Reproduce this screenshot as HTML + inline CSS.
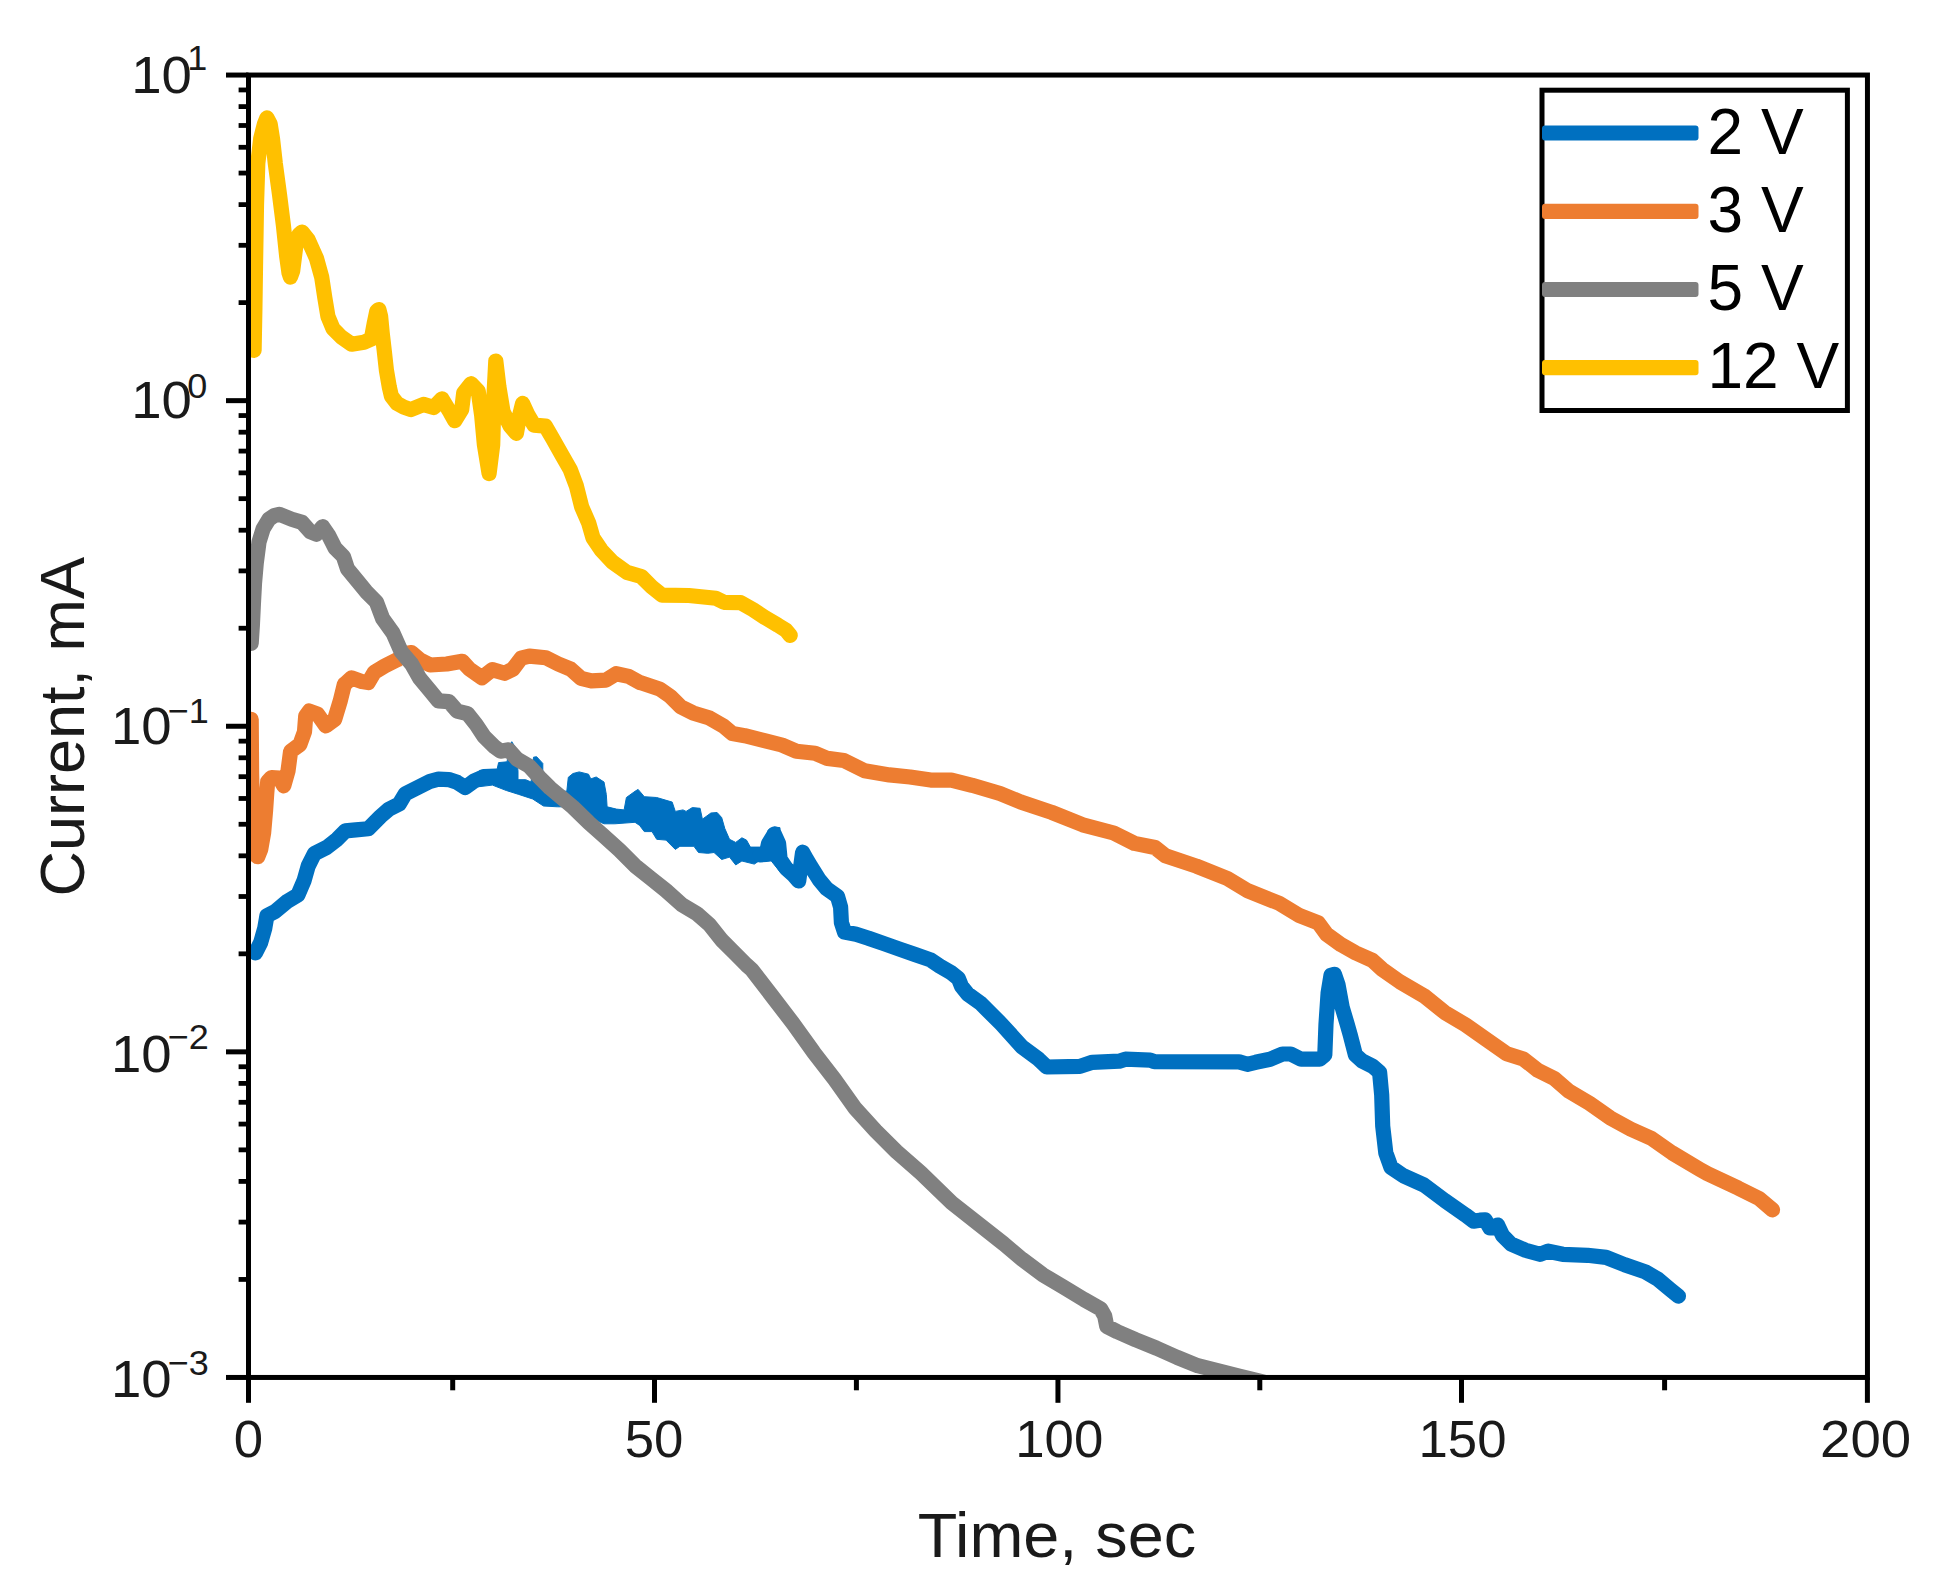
<!DOCTYPE html>
<html lang="en"><head><meta charset="utf-8"><title>Current vs Time</title>
<style>html,body{margin:0;padding:0;background:#fff}svg{display:block}</style>
</head><body>
<svg width="1936" height="1582" viewBox="0 0 1936 1582">
<rect x="0" y="0" width="1936" height="1582" fill="#ffffff"/>
<defs><clipPath id="pc"><rect x="248.50" y="75.05" width="1618.95" height="1302.40"/></clipPath></defs>
<g clip-path="url(#pc)" fill="none" stroke-width="15.2" stroke-linejoin="round" stroke-linecap="round">
<polyline stroke="#0070C0" points="255.5,952.9 260.7,942.5 264.8,928.1 266.9,915.7 275.1,911.5 287.5,901.2 297.9,895.0 304.1,880.5 308.2,866.0 314.4,853.6 326.8,847.4 337.2,839.2 345.4,830.9 355.8,829.9 368.2,828.8 380.6,816.4 388.8,809.2 399.2,804.0 405.4,793.7 417.8,787.5 430.2,781.3 438.4,779.2 448.8,779.6 457.1,782.3 465.3,787.5 473.6,781.3 483.9,776.7 496.3,776.1 497.0,777.6"/>
<polygon fill="#0070C0" stroke="#0070C0" stroke-width="1" points="480.0,770.4 497.0,769.6 498.6,762.6 507.1,761.8 508.7,747.9 511.8,741.7 515.6,747.9 518.0,771.1 518.0,779.7 525.7,779.7 531.1,782.0 533.5,757.2 536.6,756.7 542.8,763.4 542.8,771.1 546.6,789.7 566.8,791.3 568.3,777.3 573.0,773.5 579.2,771.9 588.5,774.2 590.8,778.9 596.2,777.0 604.0,782.0 606.3,794.4 607.1,806.8 616.4,809.1 624.1,809.9 626.4,797.5 635.0,791.3 638.1,789.4 644.3,796.7 656.7,797.5 672.2,802.1 675.3,811.4 683.0,809.9 686.1,811.4 692.3,807.6 700.1,808.3 702.4,819.2 710.9,813.0 717.1,812.5 721.7,817.6 724.8,828.5 729.5,839.3 735.7,842.4 741.9,837.8 746.5,840.1 750.4,847.1 765.1,847.1 768.2,830.0 774.4,826.9 780.0,827.7 780.0,871.9 771.3,861.0 758.9,861.0 754.3,864.1 741.9,861.0 735.7,864.9 729.5,857.1 721.7,859.5 714.0,852.5 707.8,853.3 698.5,852.5 693.9,846.3 679.9,846.3 675.3,849.4 666.0,840.1 656.7,839.3 652.0,831.6 644.3,831.6 639.6,825.4 635.0,822.3 614.8,823.8 604.0,823.8 588.5,816.9 566.8,806.8 557.5,806.8 543.5,806.0 532.7,799.0 518.7,794.4 506.3,790.5 492.4,785.1 480.0,786.6"/>
<polyline stroke="#0070C0" points="760.0,854.8 766.2,854.5 768.5,843.7 774.3,834.1 778.6,843.7 780.1,859.2 786.3,868.5 793.3,874.7 798.7,880.9 800.6,866.9 802.6,852.2 806.5,859.2 811.1,866.9 818.9,879.3 826.6,888.6 837.5,896.4 840.6,907.2 841.4,922.7 844.5,932.0 856.1,934.3 868.5,938.2 884.0,943.6 899.5,949.1 915.0,954.5 930.5,959.9 939.8,966.1 950.6,972.3 958.4,978.5 961.5,986.3 967.7,994.0 980.7,1003.4 1001.3,1024.0 1022.0,1046.8 1038.6,1059.2 1046.8,1067.0 1079.9,1066.4 1092.3,1062.3 1119.2,1061.2 1125.4,1059.2 1150.2,1060.2 1154.3,1061.7 1239.1,1061.9 1247.3,1064.3 1255.6,1062.3 1270.1,1059.2 1282.5,1054.0 1290.7,1054.0 1301.1,1059.2 1319.7,1059.2 1324.8,1054.9 1326.0,1023.9 1328.1,992.9 1331.0,975.3 1334.5,974.3 1338.0,984.7 1342.2,1007.4 1347.1,1023.9 1350.6,1036.3 1355.4,1054.9 1362.0,1060.9 1372.4,1066.1 1379.6,1072.3 1381.7,1095.0 1382.7,1126.0 1385.8,1152.9 1391.0,1167.4 1403.4,1175.7 1424.0,1185.0 1444.7,1200.5 1465.4,1214.9 1473.6,1221.1 1480.0,1220.2 1485.2,1219.8 1489.9,1227.9 1492.8,1227.9 1497.6,1225.0 1502.7,1235.7 1511.0,1244.0 1525.5,1250.2 1539.9,1254.3 1548.2,1251.2 1562.7,1254.3 1587.5,1255.3 1606.1,1257.4 1624.7,1264.7 1645.4,1271.9 1657.8,1279.1 1670.2,1289.5 1678.4,1296.1"/>
<polyline stroke="#ED7D31" points="251.2,719.3 251.6,773.0 252.8,824.7 255.3,854.7 257.8,856.7 260.7,849.5 263.6,833.0 265.6,810.2 266.7,793.7 267.7,781.7 271.4,777.6 279.3,778.2 283.8,785.8 288.0,771.0 290.6,751.3 299.9,744.5 304.5,731.7 305.7,716.2 309.3,711.0 317.5,714.1 325.8,725.9 334.7,719.3 340.3,700.7 344.4,684.1 345.4,683.6 351.6,677.8 362.0,681.6 368.2,682.6 374.4,672.2 384.7,666.0 397.1,659.8 405.4,653.6 411.6,652.6 419.8,659.8 430.2,665.0 446.7,664.0 462.2,661.3 469.5,669.1 481.9,677.8 492.2,669.6 504.6,673.3 512.9,669.1 521.1,658.2 529.4,656.1 545.9,657.8 558.3,664.0 570.7,669.1 581.1,678.4 591.4,680.9 605.9,680.1 616.2,673.7 628.6,676.4 640.0,682.6 641.3,682.9 659.9,689.1 670.3,696.4 680.6,706.7 693.0,712.9 709.6,718.1 724.0,726.4 732.3,733.6 744.7,735.7 765.4,740.8 781.9,745.0 796.4,751.2 815.0,753.2 827.4,758.4 843.9,760.5 864.6,770.8 889.4,774.9 910.1,777.0 930.7,780.1 951.4,780.1 972.1,785.3 1000.0,793.5 1020.7,802.0 1051.7,812.4 1082.7,824.8 1113.7,833.0 1134.4,843.4 1155.0,847.5 1165.4,855.8 1196.4,866.1 1227.4,878.5 1248.1,890.9 1279.1,903.3 1299.7,915.7 1318.3,922.9 1326.6,934.3 1341.1,944.7 1355.6,952.9 1372.1,960.2 1382.4,969.5 1400.0,981.9 1424.0,995.8 1444.7,1012.4 1465.4,1024.8 1486.0,1039.2 1506.7,1053.7 1523.3,1058.9 1537.7,1070.2 1554.3,1078.5 1568.7,1090.9 1589.4,1103.3 1610.1,1117.8 1630.7,1129.1 1651.4,1138.4 1672.1,1152.9 1700.0,1169.5 1707.4,1173.7 1738.4,1188.2 1759.1,1198.5 1772.5,1209.9"/>
<polyline stroke="#808080" points="251.2,643.3 252.4,624.7 253.4,604.0 254.5,583.4 256.3,562.7 259.0,542.0 263.2,528.6 268.9,519.3 274.1,515.6 279.3,514.3 291.7,519.3 302.0,522.4 310.3,531.7 316.5,534.2 322.7,526.7 328.9,535.8 335.1,548.2 343.4,556.5 347.5,568.9 357.8,581.3 366.1,591.6 376.4,602.0 382.6,618.5 393.0,633.0 401.2,651.6 411.6,664.0 419.8,678.4 430.2,690.9 438.4,700.8 448.8,701.6 457.1,711.1 467.4,713.6 475.7,723.9 483.9,736.3 494.3,746.7 500.5,751.2 508.7,749.8 517.0,759.1 529.4,766.3 539.7,777.7 550.1,788.0 562.5,798.3 572.8,807.0 588.5,822.3 604.0,836.2 619.5,850.2 635.0,865.7 650.5,878.1 666.0,890.5 681.5,904.4 697.0,913.7 709.4,924.6 721.7,940.1 734.1,952.5 746.5,965.0 751.7,969.6 772.4,996.5 793.0,1023.4 813.7,1052.3 834.4,1079.2 855.0,1108.1 875.7,1130.9 896.4,1151.5 920.7,1172.8 951.8,1202.9 1003.7,1243.8 1022.0,1259.2 1042.7,1274.7 1063.4,1287.1 1084.0,1299.5 1100.6,1308.8 1104.7,1316.0 1106.8,1326.4 1117.1,1331.6 1135.7,1339.8 1156.4,1348.1 1177.1,1357.4 1197.7,1365.7 1218.4,1370.8 1239.1,1376.0 1259.7,1381.2 1280.4,1386.3"/>
<polyline stroke="#FFC000" points="254.1,350.4 254.9,308.1 255.5,266.7 256.5,204.7 257.8,163.4 260.7,138.6 264.4,124.1 266.9,117.9 270.2,124.1 272.5,138.6 275.3,163.4 279.5,194.4 283.4,225.4 286.7,256.4 289.0,272.9 290.4,277.1 292.7,270.9 295.8,246.0 298.9,234.7 302.0,232.0 308.2,239.8 316.5,258.4 321.7,277.1 324.8,297.7 327.9,316.3 333.0,328.7 341.3,337.0 351.6,344.2 364.0,342.2 371.3,339.1 374.4,322.5 376.8,311.2 378.9,309.5 380.6,316.3 382.2,332.9 384.1,349.4 386.4,370.1 389.3,387.0 391.4,396.1 397.0,403.4 403.8,407.1 411.0,409.6 423.4,404.4 433.7,407.5 442.0,398.8 450.3,412.7 454.8,420.7 461.7,409.6 463.7,393.0 471.0,383.7 478.2,391.0 481.7,415.8 484.4,444.7 489.1,473.6 492.7,444.7 494.1,393.0 495.8,361.0 498.9,386.8 503.0,411.6 510.2,426.1 516.4,433.3 519.5,415.8 522.6,403.4 527.8,414.7 534.0,425.1 545.4,426.1 552.6,438.5 561.9,455.0 570.2,469.5 576.4,486.0 581.6,506.7 588.8,523.3 592.9,537.7 601.2,550.1 612.4,562.0 626.9,572.4 641.3,576.5 651.7,586.8 662.0,595.1 688.9,595.5 715.8,598.2 724.0,602.3 740.6,602.7 753.0,609.6 765.4,617.8 777.8,625.1 786.0,630.2 790.2,635.4"/>
</g>
<g stroke="#000" fill="none">
<rect x="248.50" y="75.05" width="1618.95" height="1302.40" stroke-width="5.00"/>
<line x1="226.00" y1="75.05" x2="248.50" y2="75.05" stroke-width="5"/>
<line x1="238.60" y1="302.63" x2="248.50" y2="302.63" stroke-width="4.8"/>
<line x1="238.60" y1="245.30" x2="248.50" y2="245.30" stroke-width="4.8"/>
<line x1="238.60" y1="204.62" x2="248.50" y2="204.62" stroke-width="4.8"/>
<line x1="238.60" y1="173.07" x2="248.50" y2="173.07" stroke-width="4.8"/>
<line x1="238.60" y1="147.28" x2="248.50" y2="147.28" stroke-width="4.8"/>
<line x1="238.60" y1="125.49" x2="248.50" y2="125.49" stroke-width="4.8"/>
<line x1="238.60" y1="106.60" x2="248.50" y2="106.60" stroke-width="4.8"/>
<line x1="238.60" y1="89.95" x2="248.50" y2="89.95" stroke-width="4.8"/>
<line x1="226.00" y1="400.65" x2="248.50" y2="400.65" stroke-width="5"/>
<line x1="238.60" y1="628.23" x2="248.50" y2="628.23" stroke-width="4.8"/>
<line x1="238.60" y1="570.90" x2="248.50" y2="570.90" stroke-width="4.8"/>
<line x1="238.60" y1="530.22" x2="248.50" y2="530.22" stroke-width="4.8"/>
<line x1="238.60" y1="498.67" x2="248.50" y2="498.67" stroke-width="4.8"/>
<line x1="238.60" y1="472.88" x2="248.50" y2="472.88" stroke-width="4.8"/>
<line x1="238.60" y1="451.09" x2="248.50" y2="451.09" stroke-width="4.8"/>
<line x1="238.60" y1="432.20" x2="248.50" y2="432.20" stroke-width="4.8"/>
<line x1="238.60" y1="415.55" x2="248.50" y2="415.55" stroke-width="4.8"/>
<line x1="226.00" y1="726.25" x2="248.50" y2="726.25" stroke-width="5"/>
<line x1="238.60" y1="953.83" x2="248.50" y2="953.83" stroke-width="4.8"/>
<line x1="238.60" y1="896.50" x2="248.50" y2="896.50" stroke-width="4.8"/>
<line x1="238.60" y1="855.82" x2="248.50" y2="855.82" stroke-width="4.8"/>
<line x1="238.60" y1="824.27" x2="248.50" y2="824.27" stroke-width="4.8"/>
<line x1="238.60" y1="798.48" x2="248.50" y2="798.48" stroke-width="4.8"/>
<line x1="238.60" y1="776.69" x2="248.50" y2="776.69" stroke-width="4.8"/>
<line x1="238.60" y1="757.80" x2="248.50" y2="757.80" stroke-width="4.8"/>
<line x1="238.60" y1="741.15" x2="248.50" y2="741.15" stroke-width="4.8"/>
<line x1="226.00" y1="1051.85" x2="248.50" y2="1051.85" stroke-width="5"/>
<line x1="238.60" y1="1279.43" x2="248.50" y2="1279.43" stroke-width="4.8"/>
<line x1="238.60" y1="1222.10" x2="248.50" y2="1222.10" stroke-width="4.8"/>
<line x1="238.60" y1="1181.42" x2="248.50" y2="1181.42" stroke-width="4.8"/>
<line x1="238.60" y1="1149.87" x2="248.50" y2="1149.87" stroke-width="4.8"/>
<line x1="238.60" y1="1124.08" x2="248.50" y2="1124.08" stroke-width="4.8"/>
<line x1="238.60" y1="1102.29" x2="248.50" y2="1102.29" stroke-width="4.8"/>
<line x1="238.60" y1="1083.40" x2="248.50" y2="1083.40" stroke-width="4.8"/>
<line x1="238.60" y1="1066.75" x2="248.50" y2="1066.75" stroke-width="4.8"/>
<line x1="226.00" y1="1377.45" x2="248.50" y2="1377.45" stroke-width="5"/>
<line x1="248.50" y1="1377.45" x2="248.50" y2="1402.80" stroke-width="5"/>
<line x1="654.50" y1="1377.45" x2="654.50" y2="1402.80" stroke-width="5"/>
<line x1="1057.95" y1="1377.45" x2="1057.95" y2="1402.80" stroke-width="5"/>
<line x1="1461.50" y1="1377.45" x2="1461.50" y2="1402.80" stroke-width="5"/>
<line x1="1867.40" y1="1377.45" x2="1867.40" y2="1402.80" stroke-width="5"/>
<line x1="452.70" y1="1377.45" x2="452.70" y2="1390.30" stroke-width="5"/>
<line x1="856.40" y1="1377.45" x2="856.40" y2="1390.30" stroke-width="5"/>
<line x1="1259.80" y1="1377.45" x2="1259.80" y2="1390.30" stroke-width="5"/>
<line x1="1664.60" y1="1377.45" x2="1664.60" y2="1390.30" stroke-width="5"/>
</g>
<g font-family="'Liberation Sans', Arial, sans-serif" fill="#1a1a1a">
<text transform="translate(248.50,1456.90) scale(1.035,1)" font-size="51" text-anchor="middle">0</text>
<text transform="translate(654.00,1456.90) scale(1.035,1)" font-size="51" text-anchor="middle">50</text>
<text transform="translate(1059.20,1456.90) scale(1.035,1)" font-size="51" text-anchor="middle">100</text>
<text transform="translate(1462.50,1456.90) scale(1.035,1)" font-size="51" text-anchor="middle">150</text>
<text transform="translate(1865.60,1456.90) scale(1.070,1)" font-size="51" text-anchor="middle">200</text>
<text transform="translate(131.20,92.55) scale(1.070,1)" font-size="51">10</text>
<text transform="translate(187.30,69.65) scale(1.030,1)" font-size="35">1</text>
<text transform="translate(131.20,417.75) scale(1.070,1)" font-size="51">10</text>
<text transform="translate(187.30,398.15) scale(1.030,1)" font-size="35">0</text>
<text transform="translate(111.00,743.55) scale(1.070,1)" font-size="51">10</text>
<text transform="translate(167.60,723.35) scale(1.030,1)" font-size="35">−1</text>
<text transform="translate(111.00,1071.75) scale(1.070,1)" font-size="51">10</text>
<text transform="translate(167.60,1049.25) scale(1.030,1)" font-size="35">−2</text>
<text transform="translate(111.00,1397.35) scale(1.070,1)" font-size="51">10</text>
<text transform="translate(167.60,1374.65) scale(1.030,1)" font-size="35">−3</text>
<text transform="translate(1056.97,1556.70) scale(1.02,1)" font-size="63.5" text-anchor="middle">Time, sec</text>
<text transform="translate(84.4,896.60) rotate(-90)" font-size="63" text-anchor="start">Current, mA</text>
</g>
<rect x="1542" y="90.2" width="305.4" height="320.3" fill="#fff" stroke="#000" stroke-width="5"/>
<rect x="1542" y="125.40" width="156.5" height="15.2" rx="3" ry="3" fill="#0070C0"/>
<text x="1707.5" y="153.6" font-family="'Liberation Sans', Arial, sans-serif" font-size="64" fill="#000">2 V</text>
<rect x="1542" y="203.80" width="156.5" height="15.2" rx="3" ry="3" fill="#ED7D31"/>
<text x="1707.5" y="232.0" font-family="'Liberation Sans', Arial, sans-serif" font-size="64" fill="#000">3 V</text>
<rect x="1542" y="281.90" width="156.5" height="15.2" rx="3" ry="3" fill="#808080"/>
<text x="1707.5" y="310.1" font-family="'Liberation Sans', Arial, sans-serif" font-size="64" fill="#000">5 V</text>
<rect x="1542" y="360.00" width="156.5" height="15.2" rx="3" ry="3" fill="#FFC000"/>
<text x="1707.5" y="388.2" font-family="'Liberation Sans', Arial, sans-serif" font-size="64" fill="#000">12 V</text>
</svg>
</body></html>
